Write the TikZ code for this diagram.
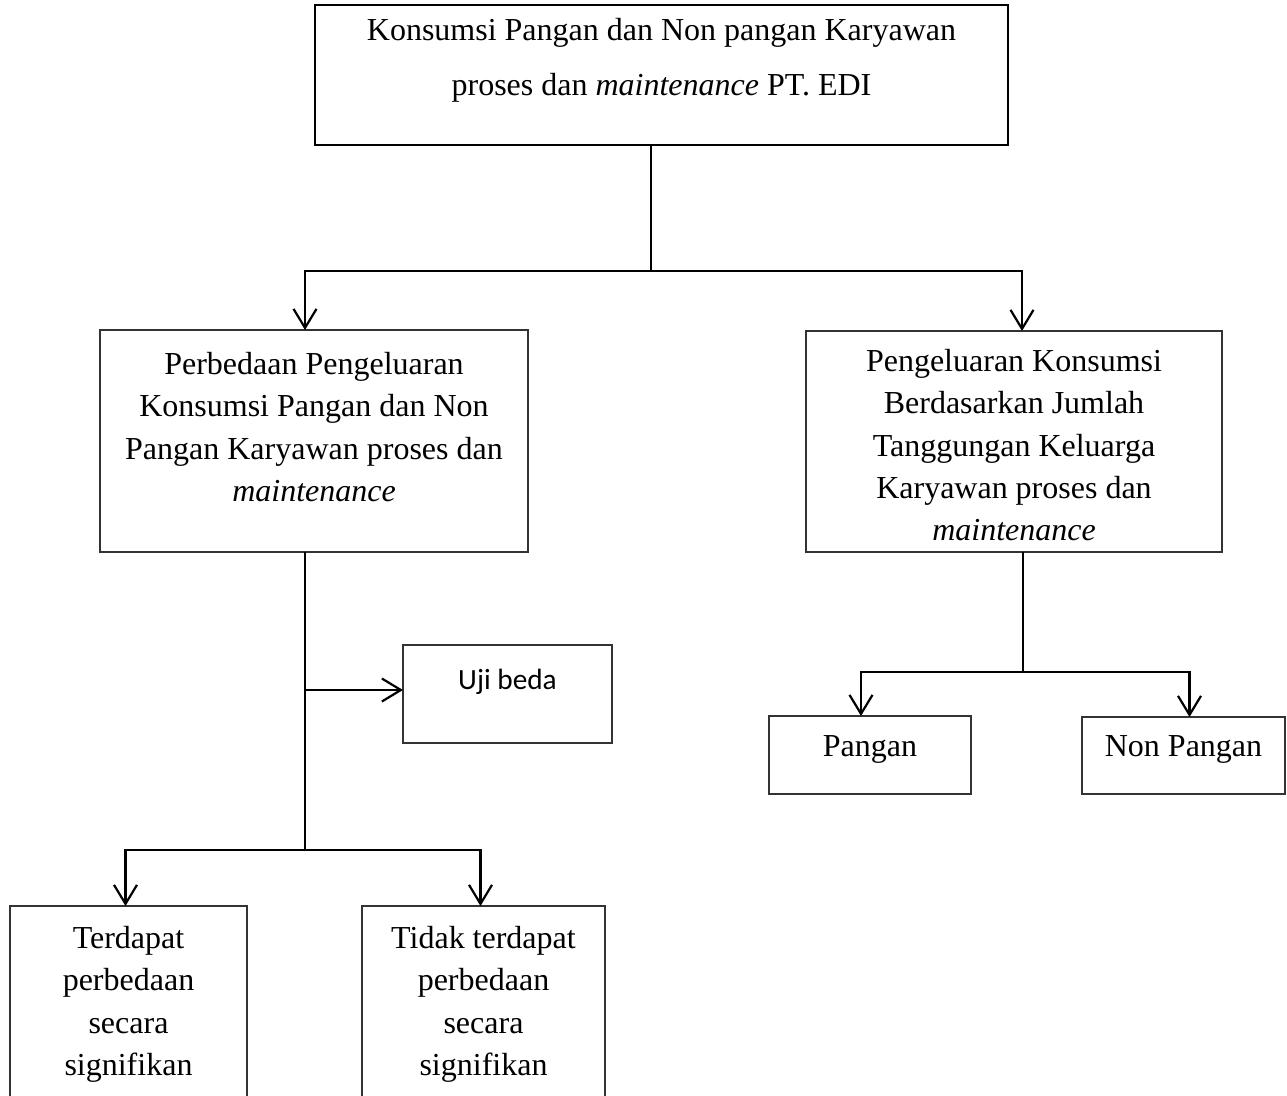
\documentclass[tikz,border=0pt]{standalone}
\usepackage{fontspec}
\setmainfont{Liberation Serif}
\newfontfamily\calibri{Carlito}
\usetikzlibrary{arrows.meta,positioning}

\begin{document}
\begin{tikzpicture}
  [
    x=1pt, y=-1pt,
    Box/.style={rectangle, draw=black!80, line width=1.2pt, inner sep=0pt, outer sep=0pt},
    Txt/.style={inner sep=0pt, align=center, anchor=north, font=\fontsize{32}{42.3}\selectfont},
    Line/.style={draw, line width=2.2pt},
    Arr/.style={Line, -{Straight Barb[length=19pt, width=23pt]}}
  ]
  \useasboundingbox (0,0) rectangle (1287,1095);
  % Boxes
  \node[Box, draw=black, line width=2.5pt, minimum width=693pt, minimum height=140pt,
    label={[Txt, yshift=-13pt, font=\fontsize{32}{55}\selectfont]north:{Konsumsi Pangan dan Non pangan Karyawan\\proses dan \textit{maintenance} PT. EDI}}] (top) at (661.5,75) {};
  \node[Box, minimum width=428pt, minimum height=222pt,
    label={[Txt, yshift=-22pt]north:{Perbedaan Pengeluaran\\Konsumsi Pangan dan Non\\Pangan Karyawan proses dan\\\textit{maintenance}}}] (perb) at (314,441) {};
  \node[Box, minimum width=416pt, minimum height=221pt,
    label={[Txt, yshift=-18pt]north:{Pengeluaran Konsumsi\\Berdasarkan Jumlah\\Tanggungan Keluarga\\Karyawan proses dan\\\textit{maintenance}}}] (peng) at (1014,441.5) {};
  \node[Box, minimum width=209pt, minimum height=98pt,
    label={[Txt, yshift=-24pt, font=\calibri\fontsize{29.3}{36}\selectfont]north:{Uji beda}}] (uji) at (507.5,694) {};
  \node[Box, minimum width=202pt, minimum height=78pt,
    label={[Txt, yshift=-19pt]north:{Pangan}}] (pangan) at (870,755) {};
  \node[Box, minimum width=203pt, minimum height=77pt,
    label={[Txt, yshift=-18pt]north:{Non Pangan}}] (nonp) at (1183.5,755.5) {};
  \node[Box, minimum width=237pt, minimum height=214pt,
    label={[Txt, yshift=-20pt]north:{Terdapat\\perbedaan\\secara\\signifikan}}] (beda) at (128.5,1013) {};
  \node[Box, minimum width=243pt, minimum height=214pt,
    label={[Txt, yshift=-20pt]north:{Tidak terdapat\\perbedaan\\secara\\signifikan}}] (tidak) at (483.5,1013) {};
  % Lines
  \coordinate (s1) at (651,271);
  \coordinate (s2) at (305,850);
  \coordinate (s3) at (1023,672);
  \path[Line] (top.south -| s1) -- (s1);
  \path[Arr] (s1) -| ([xshift=-9pt]perb.north);
  \path[Arr] (s1) -| ([xshift=8pt]peng.north);
  \path[Line] (perb.south -| s2) -- (s2);
  \path[Arr] ([yshift=4pt]uji.west -| s2) -- ([yshift=4pt]uji.west);
  \path[Arr] (s2) -| ([xshift=-3pt]beda.north);
  \path[Arr] (s2) -| ([xshift=-3pt]tidak.north);
  \path[Line] (peng.south -| s3) -- (s3);
  \path[Arr] (s3) -| ([xshift=-9pt]pangan.north);
  \path[Arr] (s3) -| ([xshift=6pt]nonp.north);
\end{tikzpicture}
\end{document}
